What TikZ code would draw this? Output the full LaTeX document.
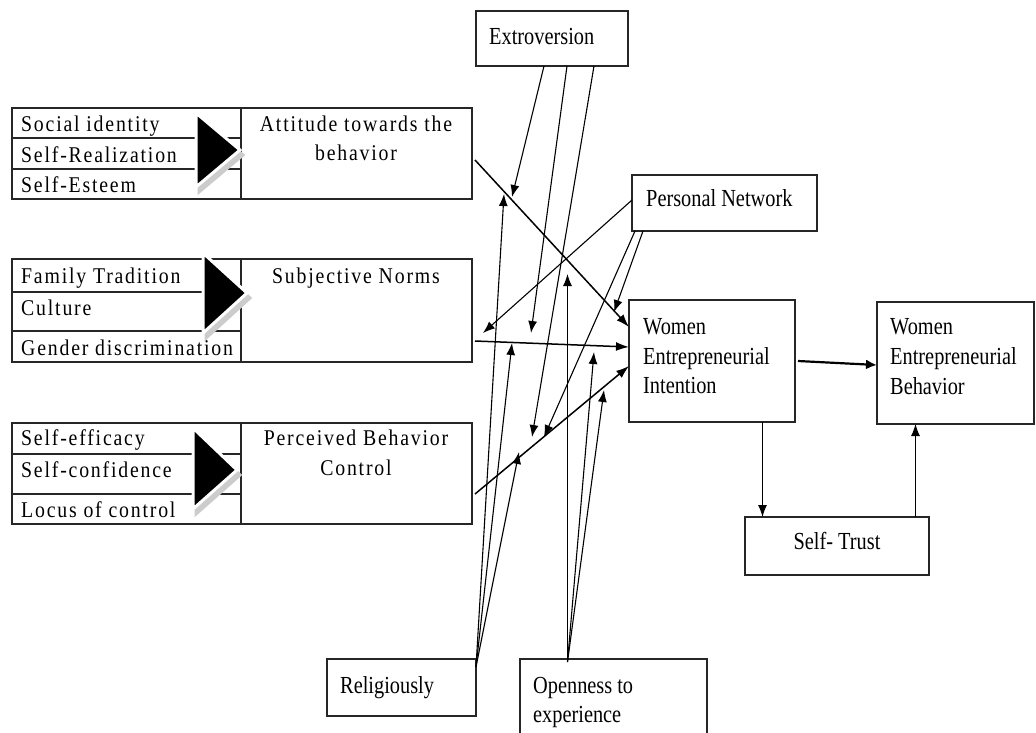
\documentclass[tikz,border=0pt]{standalone}
\usepackage{fontspec}
\setmainfont{Liberation Serif}
\newfontfamily\cbfont[FakeStretch=0.83]{Liberation Serif}
\newfontfamily\tmfont[FakeStretch=0.88,LetterSpace=8]{Liberation Serif}
\usetikzlibrary{arrows.meta}
\begin{document}
\begin{tikzpicture}[x=1pt,y=-1pt,
  box/.style={draw=black!85, line width=1.3pt, inner sep=0pt, outer sep=0pt},
  lab/.style={anchor=base west, inner sep=0pt, font=\cbfont\fontsize{24.5}{28}\selectfont},
  labc/.style={lab, anchor=base},
  tlab/.style={anchor=base west, inner sep=0pt, font=\tmfont\fontsize{22.5}{26}\selectfont},
  tlabc/.style={tlab, anchor=base},
  link/.style={line width=1.1pt, -{Latex[length=12pt,width=9pt]}},
  mainpath/.style={line width=1.5pt, -{Latex[length=13pt,width=9pt]}},
  bigpath/.style={line width=2.2pt, -{Latex[length=11pt,width=10pt]}},
  tshadow/.style={fill=gray!40, draw=gray!40, line width=3pt, line join=miter},
  tri/.style={fill=black, draw=white, line width=3pt, line join=miter},
]
\useasboundingbox (0,0) rectangle (1036,732);
\fill[white] (0,0) rectangle (1036,732);

% ---- Attitude group
\node[box, minimum width=229, minimum height=30] (si) at (126.5,123) {};
\node[box, minimum width=229, minimum height=31] (sr) at (126.5,153.5) {};
\node[box, minimum width=229, minimum height=30] (se) at (126.5,184) {};
\node[box, minimum width=231, minimum height=91] (att) at (356.5,153.5) {};
% ---- Subjective norms group
\node[box, minimum width=229, minimum height=33] (ft) at (126.5,275.5) {};
\node[box, minimum width=229, minimum height=39] (cu) at (126.5,311.5) {};
\node[box, minimum width=229, minimum height=31] (gd) at (126.5,346.5) {};
\node[box, minimum width=231, minimum height=103] (sn) at (356.5,310.5) {};
% ---- Perceived behavior control group
\node[box, minimum width=229, minimum height=31] (sef) at (126.5,438.5) {};
\node[box, minimum width=229, minimum height=40] (sc) at (126.5,474) {};
\node[box, minimum width=229, minimum height=30] (lc) at (126.5,509) {};
\node[box, minimum width=231, minimum height=101] (pbc) at (356.5,473.5) {};

% ---- other boxes
\node[box, minimum width=152, minimum height=55] (ext) at (552,38.5) {};
\node[box, minimum width=185, minimum height=56] (pn) at (724.5,203) {};
\node[box, minimum width=166, minimum height=122] (wei) at (712,361) {};
\node[box, minimum width=157, minimum height=122] (web) at (955.5,363) {};
\node[box, minimum width=184, minimum height=58] (st) at (837,546) {};
\node[box, minimum width=149, minimum height=57] (rel) at (401.5,687.5) {};
\node[box, minimum width=187, minimum height=90] (opn) at (613.5,704) {};

% ---- arrow triangles between factor lists and constructs
\filldraw[tshadow] (199,118) -- (199,192) -- (243,155) -- cycle;
\filldraw[tri] (196,113) -- (196,187) -- (240,150) -- cycle;
\filldraw[tshadow] (206,258) -- (206,338) -- (250,298) -- cycle;
\filldraw[tri] (203,253) -- (203,333) -- (247,293) -- cycle;
\filldraw[tshadow] (196,433) -- (196,514) -- (240,475) -- cycle;
\filldraw[tri] (193,428) -- (193,509) -- (237,470) -- cycle;

% ---- texts
\node[tlab] (tsi) at (21,131) {Social identity};
\node[tlab] (tsr) at (21,162) {Self-Realization};
\node[tlab] (tse) at (21,192) {Self-Esteem};
\node[tlabc] (tat1) at (356,131) {Attitude towards the};
\node[tlabc] (tat2) at (356,160) {behavior};
\node[tlab] (tft) at (21,283) {Family Tradition};
\node[tlab] (tcu) at (21,315) {Culture};
\node[tlab] (tgd) at (21,355) {Gender discrimination};
\node[tlabc] (tsn) at (356,283) {Subjective Norms};
\node[tlab] (tsef) at (21,445) {Self-efficacy};
\node[tlab] (tsc) at (21,477) {Self-confidence};
\node[tlab] (tlc) at (21,517) {Locus of control};
\node[tlabc] (tpb1) at (356,445) {Perceived Behavior};
\node[tlabc] (tpb2) at (356,475) {Control};

\node[lab] (text) at (489,44) {Extroversion};
\node[lab] (tpn) at (646,206) {Personal Network};
\node[lab] (twei1) at (643,334) {Women};
\node[lab] (twei2) at (643,364) {Entrepreneurial};
\node[lab] (twei3) at (643,393) {Intention};
\node[lab] (tweb1) at (890,334) {Women};
\node[lab] (tweb2) at (890,364) {Entrepreneurial};
\node[lab] (tweb3) at (890,394) {Behavior};
\node[labc] (tst) at (837,549) {Self- Trust};
\node[lab] (trel) at (340,693) {Religiously};
\node[lab] (topn1) at (533,693) {Openness to};
\node[lab] (topn2) at (533,722) {experience};

% ---- moderator arrow tips
\coordinate (t1) at (512,197);
\coordinate (t2) at (531,333);
\coordinate (t3) at (532,437);
\coordinate (t4) at (483,333);
\coordinate (t5) at (614,312);
\coordinate (t6) at (544,437);
\coordinate (t7) at (504,194);
\coordinate (t8) at (512,343);
\coordinate (t9) at (519,452);
\coordinate (t10) at (567.5,274);
\coordinate (t11) at (594,352);
\coordinate (t12) at (604,390);

% ---- main paths to intention
\draw[mainpath] ([xshift=3pt,yshift=-6.5pt]att.east) -- ([yshift=34pt]wei.west);
\draw[mainpath] ([xshift=3pt,yshift=-30.5pt]sn.east) -- ([yshift=14pt]wei.west);
\draw[mainpath] ([xshift=3pt,yshift=-20.5pt]pbc.east) -- ([yshift=-5pt]wei.west);

% ---- extroversion
\draw[link] ([xshift=68pt]ext.south west) -- (t1);
\draw[link] ([xshift=91pt]ext.south west) -- (t2);
\draw[link] ([xshift=118pt]ext.south west) -- (t3);
% ---- personal network
\draw[link] ([yshift=3pt]pn.west) -- (t4);
\draw[link] ([xshift=11pt]pn.south west) -- (t5);
\draw[link] ([xshift=3pt]pn.south west) -- (t6);
% ---- religiously
\draw[link] ([yshift=-8pt]rel.north east) -- (t7);
\draw[link] ([yshift=-8pt]rel.north east) -- (t8);
\draw[link] ([yshift=-8pt]rel.north east) -- (t9);
% ---- openness to experience
\draw[link] ([xshift=47.5pt,yshift=-3pt]opn.north west) -- (t10);
\draw[link] ([xshift=47.5pt,yshift=-3pt]opn.north west) -- (t11);
\draw[link] ([xshift=47.5pt,yshift=-3pt]opn.north west) -- (t12);

% ---- intention, self-trust and behavior
\draw[bigpath] ([xshift=3pt]wei.east) -- ([yshift=-2pt]web.west);
\draw[link] ([xshift=133.5pt]wei.south west) -- ([xshift=17.5pt]st.north west);
\draw[link] ([xshift=170.5pt]st.north west) -- ([xshift=38.5pt]web.south west);
\end{tikzpicture}
\end{document}
